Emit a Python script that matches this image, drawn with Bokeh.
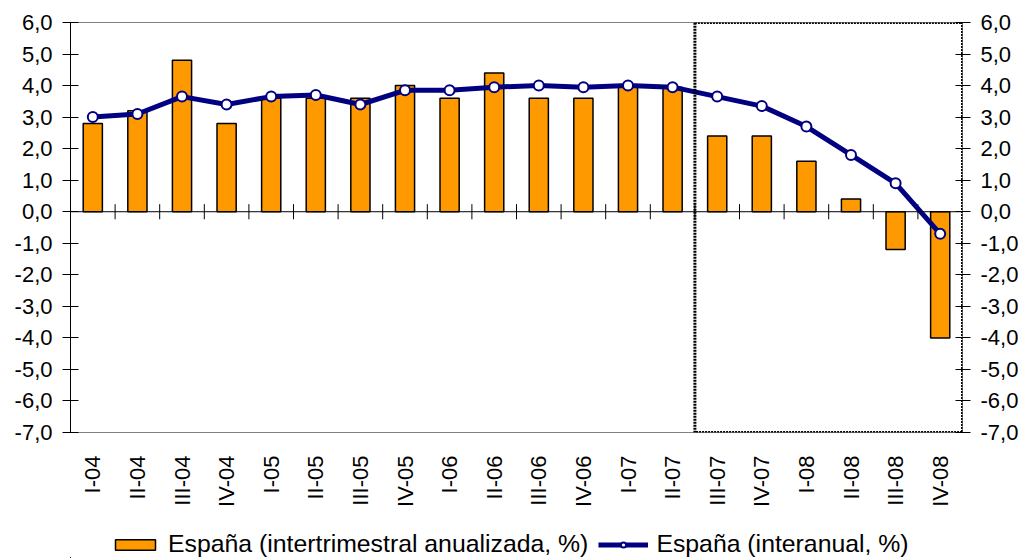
import math
from bokeh.plotting import figure
from bokeh.layouts import column
from bokeh.models import (Range1d, LinearAxis, FixedTicker, Span, BoxAnnotation,
                          Legend, LegendItem, ColumnDataSource)
from bokeh.embed import file_html
from bokeh.resources import INLINE

# ---- data ----
categories = ["I-04", "II-04", "III-04", "IV-04",
              "I-05", "II-05", "III-05", "IV-05",
              "I-06", "II-06", "III-06", "IV-06",
              "I-07", "II-07", "III-07", "IV-07",
              "I-08", "II-08", "III-08", "IV-08"]
intertrimestral = [2.8, 3.2, 4.8, 2.8,
                   3.6, 3.6, 3.6, 4.0,
                   3.6, 4.4, 3.6, 3.6,
                   4.0, 3.95, 2.4, 2.4,
                   1.6, 0.4, -1.2, -4.0]
interanual = [3.0, 3.1, 3.65, 3.4,
              3.65, 3.7, 3.4, 3.85,
              3.85, 3.95, 4.0, 3.95,
              4.0, 3.95, 3.65, 3.35,
              2.7, 1.8, 0.9, -0.7]
y_ticks = [-7, -6, -5, -4, -3, -2, -1, 0, 1, 2, 3, 4, 5, 6]
y_tick_labels = ["-7,0", "-6,0", "-5,0", "-4,0", "-3,0", "-2,0", "-1,0",
                 "0,0", "1,0", "2,0", "3,0", "4,0", "5,0", "6,0"]
series_names = ["España (intertrimestral anualizada, %)", "España (interanual, %)"]
highlight_start = "III-07"

n = len(categories)
xpos = [i + 0.5 for i in range(n)]
src = ColumnDataSource(dict(x=xpos, cat=categories, bar=intertrimestral, line=interanual))

FONT = "Liberation Sans"
ORANGE = "#FF9900"
NAVY = "#000080"

p = figure(width=1021, height=530,
           x_range=Range1d(0, n), y_range=Range1d(y_ticks[0], y_ticks[-1]),
           output_backend="svg", toolbar_location=None,
           x_axis_location=None, y_axis_location=None,
           min_border_left=70, min_border_right=56,
           min_border_top=22, min_border_bottom=98)
p.xgrid.visible = False
p.ygrid.visible = False
p.outline_line_color = "#808080"
p.outline_line_width = 1
p.background_fill_color = "white"
p.border_fill_color = "white"

overrides = {int(t): l for t, l in zip(y_ticks, y_tick_labels)}

left = LinearAxis(ticker=FixedTicker(ticks=y_ticks), major_label_overrides=overrides)
left.axis_line_color = "black"
left.major_tick_line_color = "black"
left.major_tick_in = 8
left.major_tick_out = 8
left.minor_tick_line_color = None
left.major_label_standoff = 10
left.major_label_text_font = FONT
left.major_label_text_font_size = "22px"
left.major_label_text_color = "black"
p.add_layout(left, "left")

right = LinearAxis(ticker=FixedTicker(ticks=y_ticks), major_label_overrides=overrides)
right.axis_line_color = None
right.major_tick_line_color = "black"
right.major_tick_in = 7
right.major_tick_out = 8
right.minor_tick_line_color = None
right.major_label_standoff = 10
right.major_label_text_font = FONT
right.major_label_text_font_size = "22px"
right.major_label_text_color = "black"
p.add_layout(right, "right")

bottom = LinearAxis(ticker=FixedTicker(ticks=xpos),
                    major_label_overrides={x: c for x, c in zip(xpos, categories)})
bottom.axis_line_color = None
bottom.major_tick_line_color = None
bottom.minor_tick_line_color = None
bottom.major_label_orientation = math.pi / 2
bottom.major_label_standoff = 17
bottom.major_label_text_font = FONT
bottom.major_label_text_font_size = "22px"
bottom.major_label_text_color = "black"
p.add_layout(bottom, "below")

# zero line and category tick marks crossing it
p.add_layout(Span(location=0, dimension="width", line_color="black", line_width=1))
bounds = list(range(1, n))
p.segment(x0=bounds, y0=[-0.24] * len(bounds), x1=bounds, y1=[0.24] * len(bounds),
          line_color="black", line_width=1)

p.vbar(x="x", top="bar", bottom=0, width=0.43, source=src,
       fill_color=ORANGE, line_color="black", line_width=1.5)
p.line(x="x", y="line", source=src, line_color=NAVY, line_width=5)
p.scatter(x="x", y="line", source=src, size=10, marker="circle",
          fill_color="white", line_color=NAVY, line_width=2)

# dotted highlight box
start = categories.index(highlight_start)
p.add_layout(BoxAnnotation(left=start, right=n, bottom=y_ticks[0], top=y_ticks[-1],
                           fill_alpha=0, line_color="black", line_alpha=1.0,
                           line_width=3, line_dash="2 1"))

# ---- legend strip (separate figure so it is not clipped) ----
p2 = figure(width=1021, height=28, x_range=Range1d(1000, 1001), y_range=Range1d(1000, 1001),
            output_backend="svg", toolbar_location=None,
            x_axis_location=None, y_axis_location=None,
            min_border_left=0, min_border_right=0, min_border_top=0, min_border_bottom=0)
p2.xgrid.visible = False
p2.ygrid.visible = False
p2.outline_line_color = None
p2.border_fill_color = "white"
lb = p2.vbar(x="x", top="bar", bottom=0, width=0.43, source=src,
             fill_color=ORANGE, line_color="black", line_width=1.5)
ll = p2.line(x="x", y="line", source=src, line_color=NAVY, line_width=5)
ls = p2.scatter(x="x", y="line", source=src, size=10, marker="circle",
                fill_color="white", line_color=NAVY, line_width=2)

legend = Legend(items=[LegendItem(label=series_names[0], renderers=[lb]),
                       LegendItem(label=series_names[1], renderers=[ll, ls])],
                location=(40, 0), orientation="horizontal",
                glyph_width=50, glyph_height=13, label_standoff=8, spacing=10,
                padding=0, margin=0, border_line_color=None,
                background_fill_alpha=0,
                label_text_font=FONT, label_text_font_size="24.8px",
                label_text_color="black")
p2.add_layout(legend, "center")

open("out.html", "w").write(file_html(column(p, p2, spacing=0), INLINE))
